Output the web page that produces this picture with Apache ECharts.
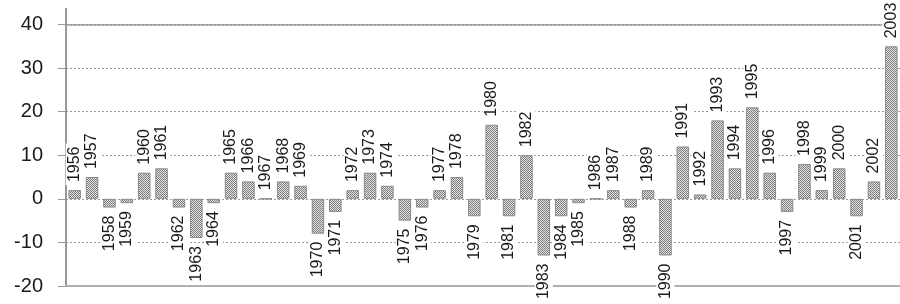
<!DOCTYPE html>
<html>
<head>
<meta charset="utf-8">
<script src="https://cdn.jsdelivr.net/npm/echarts@6/dist/echarts.min.js"></script>
<style>
  html, body { margin: 0; padding: 0; background: #fff; }
  #chart { width: 900px; height: 304px; }
</style>
</head>
<body>
<div id="chart"></div>
<script>
// years on the category axis
const years = [
  "1956", "1957", "1958", "1959", "1960", "1961", "1962", "1963", "1964", "1965",
  "1966", "1967", "1968", "1969", "1970", "1971", "1972", "1973", "1974", "1975",
  "1976", "1977", "1978", "1979", "1980", "1981", "1982", "1983", "1984", "1985",
  "1986", "1987", "1988", "1989", "1990", "1991", "1992", "1993", "1994", "1995",
  "1996", "1997", "1998", "1999", "2000", "2001", "2002", "2003"
];
// bar values
const values = [
  2, 5, -2, -1, 6, 7, -2, -9, -1, 6,
  4, 0, 4, 3, -8, -3, 2, 6, 3, -5,
  -2, 2, 5, -4, 17, -4, 10, -13, -4, -1,
  0, 2, -2, 2, -13, 12, 1, 18, 7, 21,
  6, -3, 8, 2, 7, -4, 4, 35
];
const yMin = -20;
const yMax = 40;
const yStep = 10;

// checkered fill for the bars
const pat = document.createElement("canvas");
pat.width = 2;
pat.height = 2;
const pctx = pat.getContext("2d");
pctx.fillStyle = "#e6e6e6";
pctx.fillRect(0, 0, 2, 2);
pctx.fillStyle = "#7a7a7a";
pctx.fillRect(0, 0, 1, 1);
pctx.fillRect(1, 1, 1, 1);

const font = "Arial";

const barData = values.map((v) => {
  const up = v >= 0;
  return {
    value: v,
    label: {
      position: up ? "top" : "bottom",
      align: up ? "left" : "right",
    },
  };
});

let myChart = echarts.init(document.getElementById("chart"));
myChart.setOption({
  animation: false,
  grid: {
    left: 66,
    right: -6,
    top: 24.5,
    bottom: 18,
  },
  xAxis: {
    type: "category",
    data: years,
    axisLine: {
      onZero: false,
      lineStyle: { color: "#b0b0b0", width: 2 },
    },
    axisTick: { show: false },
    axisLabel: { show: false },
    splitLine: { show: false },
  },
  yAxis: {
    type: "value",
    min: yMin,
    max: yMax,
    interval: yStep,
    axisLine: {
      show: true,
      lineStyle: { color: "#777", width: 1.5 },
    },
    axisTick: {
      show: true,
      length: 8,
      lineStyle: { color: "#999" },
    },
    axisLabel: {
      margin: 23,
      fontSize: 20,
      color: "#1a1a1a",
      fontFamily: font,
    },
    splitLine: {
      show: true,
      lineStyle: { color: "#999", type: [2, 2], width: 1 },
    },
  },
  graphic: [
    {
      // the y axis line runs a little above the top tick
      type: "line",
      shape: { x1: 66, y1: 8, x2: 66, y2: 25 },
      style: { stroke: "#777", lineWidth: 1.5 },
    },
  ],
  series: [
    {
      type: "bar",
      data: barData,
      barWidth: 12.5,
      itemStyle: {
        color: { image: pat, repeat: "repeat" },
        borderColor: "#8a8a8a",
        borderWidth: 1,
      },
      label: {
        show: true,
        formatter: (p) => years[p.dataIndex],
        rotate: 90,
        verticalAlign: "middle",
        distance: 5,
        fontSize: 16,
        color: "#1a1a1a",
        fontFamily: font,
        backgroundColor: "#fff",
        padding: [1, 3],
      },
      markLine: {
        silent: true,
        symbol: "none",
        label: { show: false },
        lineStyle: { color: "#999", type: "solid", width: 1.5 },
        data: [{ yAxis: yMax }],
        z: 1,
      },
    },
  ],
});
</script>
</body>
</html>
